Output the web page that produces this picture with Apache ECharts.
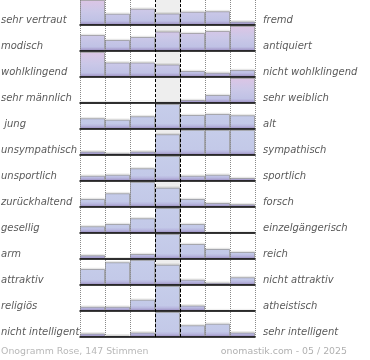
<!DOCTYPE html>
<html>
<head>
<meta charset="utf-8">
<script src="https://cdn.jsdelivr.net/npm/echarts@6/dist/echarts.min.js"></script>
<style>html,body{margin:0;padding:0;background:#fff;}#c{width:370px;height:360px;}</style>
</head>
<body>
<div id="c"></div>
<script>
var leftLabels = ["sehr vertraut","modisch","wohlklingend","sehr männlich"," jung","unsympathisch","unsportlich","zurückhaltend","gesellig","arm","attraktiv","religiös","nicht intelligent"];
var rightLabels = ["fremd","antiquiert","nicht wohlklingend","sehr weiblich","alt","sympathisch","sportlich","forsch","einzelgängerisch","reich","nicht attraktiv","atheistisch","sehr intelligent"];
var steps = ["1","2","3","4","5","6","7"];
var row1 = [100, 45, 65, 46, 53, 55, 14];
var row2 = [64, 44, 56, 78, 72, 80, 100];
var row3 = [100, 58, 58, 50, 24, 17, 28];
var row4 = [0, 0, 4, 2, 12, 32, 100];
var row5 = [43, 37, 51, 100, 56, 60, 55];
var row6 = [14, 7, 14, 83, 100, 100, 100];
var row7 = [21, 25, 51, 100, 21, 25, 12];
var row8 = [32, 55, 100, 77, 32, 16, 11];
var row9 = [27, 36, 59, 100, 36, 2, 2];
var row10 = [15, 0, 20, 100, 60, 40, 28];
var row11 = [64, 91, 100, 81, 21, 9, 31];
var row12 = [17, 17, 45, 100, 22, 2, 2];
var row13 = [14, 6, 18, 100, 47, 53, 18];
var footerLeft = "Onogramm Rose, 147 Stimmen";
var footerRight = "onomastik.com - 05 / 2025";

var rows = [row1,row2,row3,row4,row5,row6,row7,row8,row9,row10,row11,row12,row13];
var L = 80, W = 175, H = 25, STEP = 26, BASE0 = 25;
var FONT = "'DejaVu Sans', Verdana, sans-serif";

var grids = [{left: L, top: 0, width: W, height: BASE0 + STEP * 12}];
var xAxes = [{gridIndex: 0, type: 'value', min: 0, max: 7, interval: 1,
  axisLine: {show: false}, axisTick: {show: false}, axisLabel: {show: false},
  splitLine: {show: true, lineStyle: {type: [1, 1], color: '#8a8a8a', width: 1}}}];
var yAxes = [{gridIndex: 0, type: 'value', min: 0, max: 1, show: false}];
var series = [
  {type: 'scatter', xAxisIndex: 0, yAxisIndex: 0, data: [[0, 0]], symbolSize: 0, silent: true, z: 0,
   markArea: {silent: true, itemStyle: {color: '#eeeeee'}, data: [[{xAxis: 3}, {xAxis: 4}]]}},
  {type: 'scatter', xAxisIndex: 0, yAxisIndex: 0, data: [[0, 0]], symbolSize: 0, silent: true, z: 10,
   markLine: {silent: true, symbol: 'none', label: {show: false},
     lineStyle: {type: [3, 2], color: '#000', width: 1},
     data: [{xAxis: 3}, {xAxis: 4}]}}
];
var graphics = [];

rows.forEach(function (vals, i) {
  var base = BASE0 + STEP * i;
  var top = base - H;
  var gi = i + 1;
  grids.push({left: L, top: top, width: W, height: H});
  xAxes.push({gridIndex: gi, type: 'category', data: steps, boundaryGap: true,
    axisLine: {show: true, lineStyle: {color: '#000', width: 1.5}},
    axisTick: {show: false}, axisLabel: {show: false}, splitLine: {show: false}, z: 6});
  yAxes.push({gridIndex: gi, type: 'value', min: 0, max: 100, show: false});
  var stops = i < 4 ?
    [{offset: 0, color: '#dcc5e5'}, {offset: 0.45, color: '#cbc8e8'}, {offset: 0.82, color: '#c0c2e5'},
     {offset: 0.92, color: '#b2abd8'}, {offset: 1, color: '#9b8ac3'}] :
    [{offset: 0, color: '#c6cdea'}, {offset: 0.78, color: '#c3c9e8'}, {offset: 0.9, color: '#b6b3dd'},
     {offset: 1, color: '#9b8ac3'}];
  series.push({type: 'bar', xAxisIndex: gi, yAxisIndex: gi, data: vals, barCategoryGap: '0%', z: 2,
    silent: true,
    itemStyle: {
      color: {type: 'linear', x: 0, y: top, x2: 0, y2: base, colorStops: stops, global: true},
      borderColor: 'rgba(125,125,125,0.55)', borderWidth: 1,
      shadowColor: 'rgba(0,0,0,0.08)', shadowOffsetX: 0, shadowOffsetY: -1.5, shadowBlur: 0
    }});
  graphics.push({type: 'text', left: 1, top: base - 10, style: {text: leftLabels[i],
    font: 'italic 10px ' + FONT, fill: '#5a5a5a'}});
  graphics.push({type: 'text', left: 263, top: base - 10, style: {text: rightLabels[i],
    font: 'italic 10px ' + FONT, fill: '#5a5a5a'}});
});

graphics.push({type: 'text', left: 1, top: 347.5, style: {text: footerLeft, font: '9.4px ' + FONT, fill: '#b8b8b8'}});
graphics.push({type: 'text', right: 23, top: 347.5, style: {text: footerRight, font: '9.4px ' + FONT, fill: '#b0b0b0'}});

var chart = echarts.init(document.getElementById('c'), null, {renderer: 'canvas'});
chart.setOption({
  animation: false,
  grid: grids, xAxis: xAxes, yAxis: yAxes, series: series, graphic: graphics
});
</script>
</body>
</html>
